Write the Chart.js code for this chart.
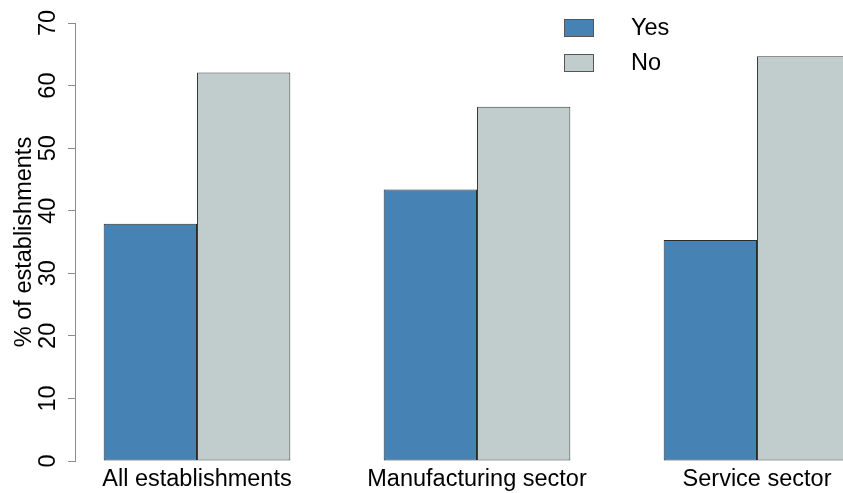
<!DOCTYPE html>
<html>
<head>
<meta charset="utf-8">
<script src="https://cdn.jsdelivr.net/npm/chart.js@4"></script>
<style>
  html, body { margin: 0; padding: 0; background: #fff; overflow: hidden; }
</style>
</head>
<body>
<canvas id="chart" width="843" height="493"></canvas>
<script>
const categories = ['All establishments', 'Manufacturing sector', 'Service sector'];
const yesValues = [37.9, 43.4, 35.3];
const noValues = [62.1, 56.6, 64.7];
const yTicks = [0, 10, 20, 30, 40, 50, 60, 70];

// Colors
const yesColor = '#4682B4';
const noColor = '#C1CDCD';
const axisColor = '#8c8c8c';

Chart.defaults.font.family = '"Liberation Sans", Arial, sans-serif';
Chart.defaults.color = '#000';

// legend drawn as two stacked boxes, like the R plot
const boxLegend = {
  id: 'boxLegend',
  afterDraw(chart) {
    const ctx = chart.ctx;
    ctx.save();
    chart.data.datasets.forEach((ds, i) => {
      const y = 19 + i * 35;
      ctx.fillStyle = ds.backgroundColor;
      ctx.fillRect(564, y, 30, 18);
      ctx.strokeStyle = '#555';
      ctx.lineWidth = 1;
      ctx.strokeRect(564.5, y + 0.5, 29, 17);
      ctx.fillStyle = '#000';
      ctx.font = '23.5px "Liberation Sans", Arial, sans-serif';
      ctx.textBaseline = 'middle';
      ctx.textAlign = 'left';
      ctx.fillText(ds.label, 631, y + 9.5);
    });
    ctx.restore();
  }
};

new Chart(document.getElementById('chart').getContext('2d'), {
  type: 'bar',
  data: {
    datasets: [{
      label: 'Yes',
      data: yesValues.map((v, i) => ({ x: i, y: v })),
      backgroundColor: yesColor,
      borderColor: '#2b2b2b',
      borderWidth: 1,
      borderSkipped: false
    }, {
      label: 'No',
      data: noValues.map((v, i) => ({ x: i, y: v })),
      backgroundColor: noColor,
      borderColor: '#3a3a3a',
      borderWidth: 1,
      borderSkipped: false
    }]
  },
  options: {
    responsive: false,
    animation: false,
    categoryPercentage: 2 / 3,
    barPercentage: 1,
    layout: { padding: { top: 23, left: 0, right: 0, bottom: 0 } },
    plugins: {
      legend: { display: false },
      tooltip: { enabled: false }
    },
    scales: {
      x: {
        type: 'linear',
        offset: false,
        min: -0.4357,
        max: 2.3071,
        grid: { display: false, drawTicks: false },
        border: { display: false },
        ticks: {
          stepSize: 1,
          includeBounds: false,
          autoSkip: false,
          maxRotation: 0,
          padding: 4,
          font: { size: 23.5 },
          callback: (v) => categories[v]
        },
        afterFit: (s) => { s.height = 32; s.paddingLeft = 0; s.paddingRight = 0; }
      },
      y: {
        min: 0,
        max: 70,
        afterBuildTicks: (s) => { s.ticks = yTicks.map(v => ({ value: v })); },
        grid: { drawOnChartArea: false, color: axisColor, tickLength: 7 },
        border: { display: true, color: axisColor },
        ticks: {
          minRotation: 90,
          maxRotation: 90,
          crossAlign: 'center',
          padding: 6,
          font: { size: 23.5 }
        },
        title: {
          display: true,
          text: '% of establishments',
          font: { size: 23.5 },
          padding: { top: 10, bottom: 0 }
        },
        afterFit: (s) => { s.width = 75; s.paddingTop = 0; s.paddingBottom = 0; }
      }
    }
  },
  plugins: [boxLegend]
});
</script>
</body>
</html>
